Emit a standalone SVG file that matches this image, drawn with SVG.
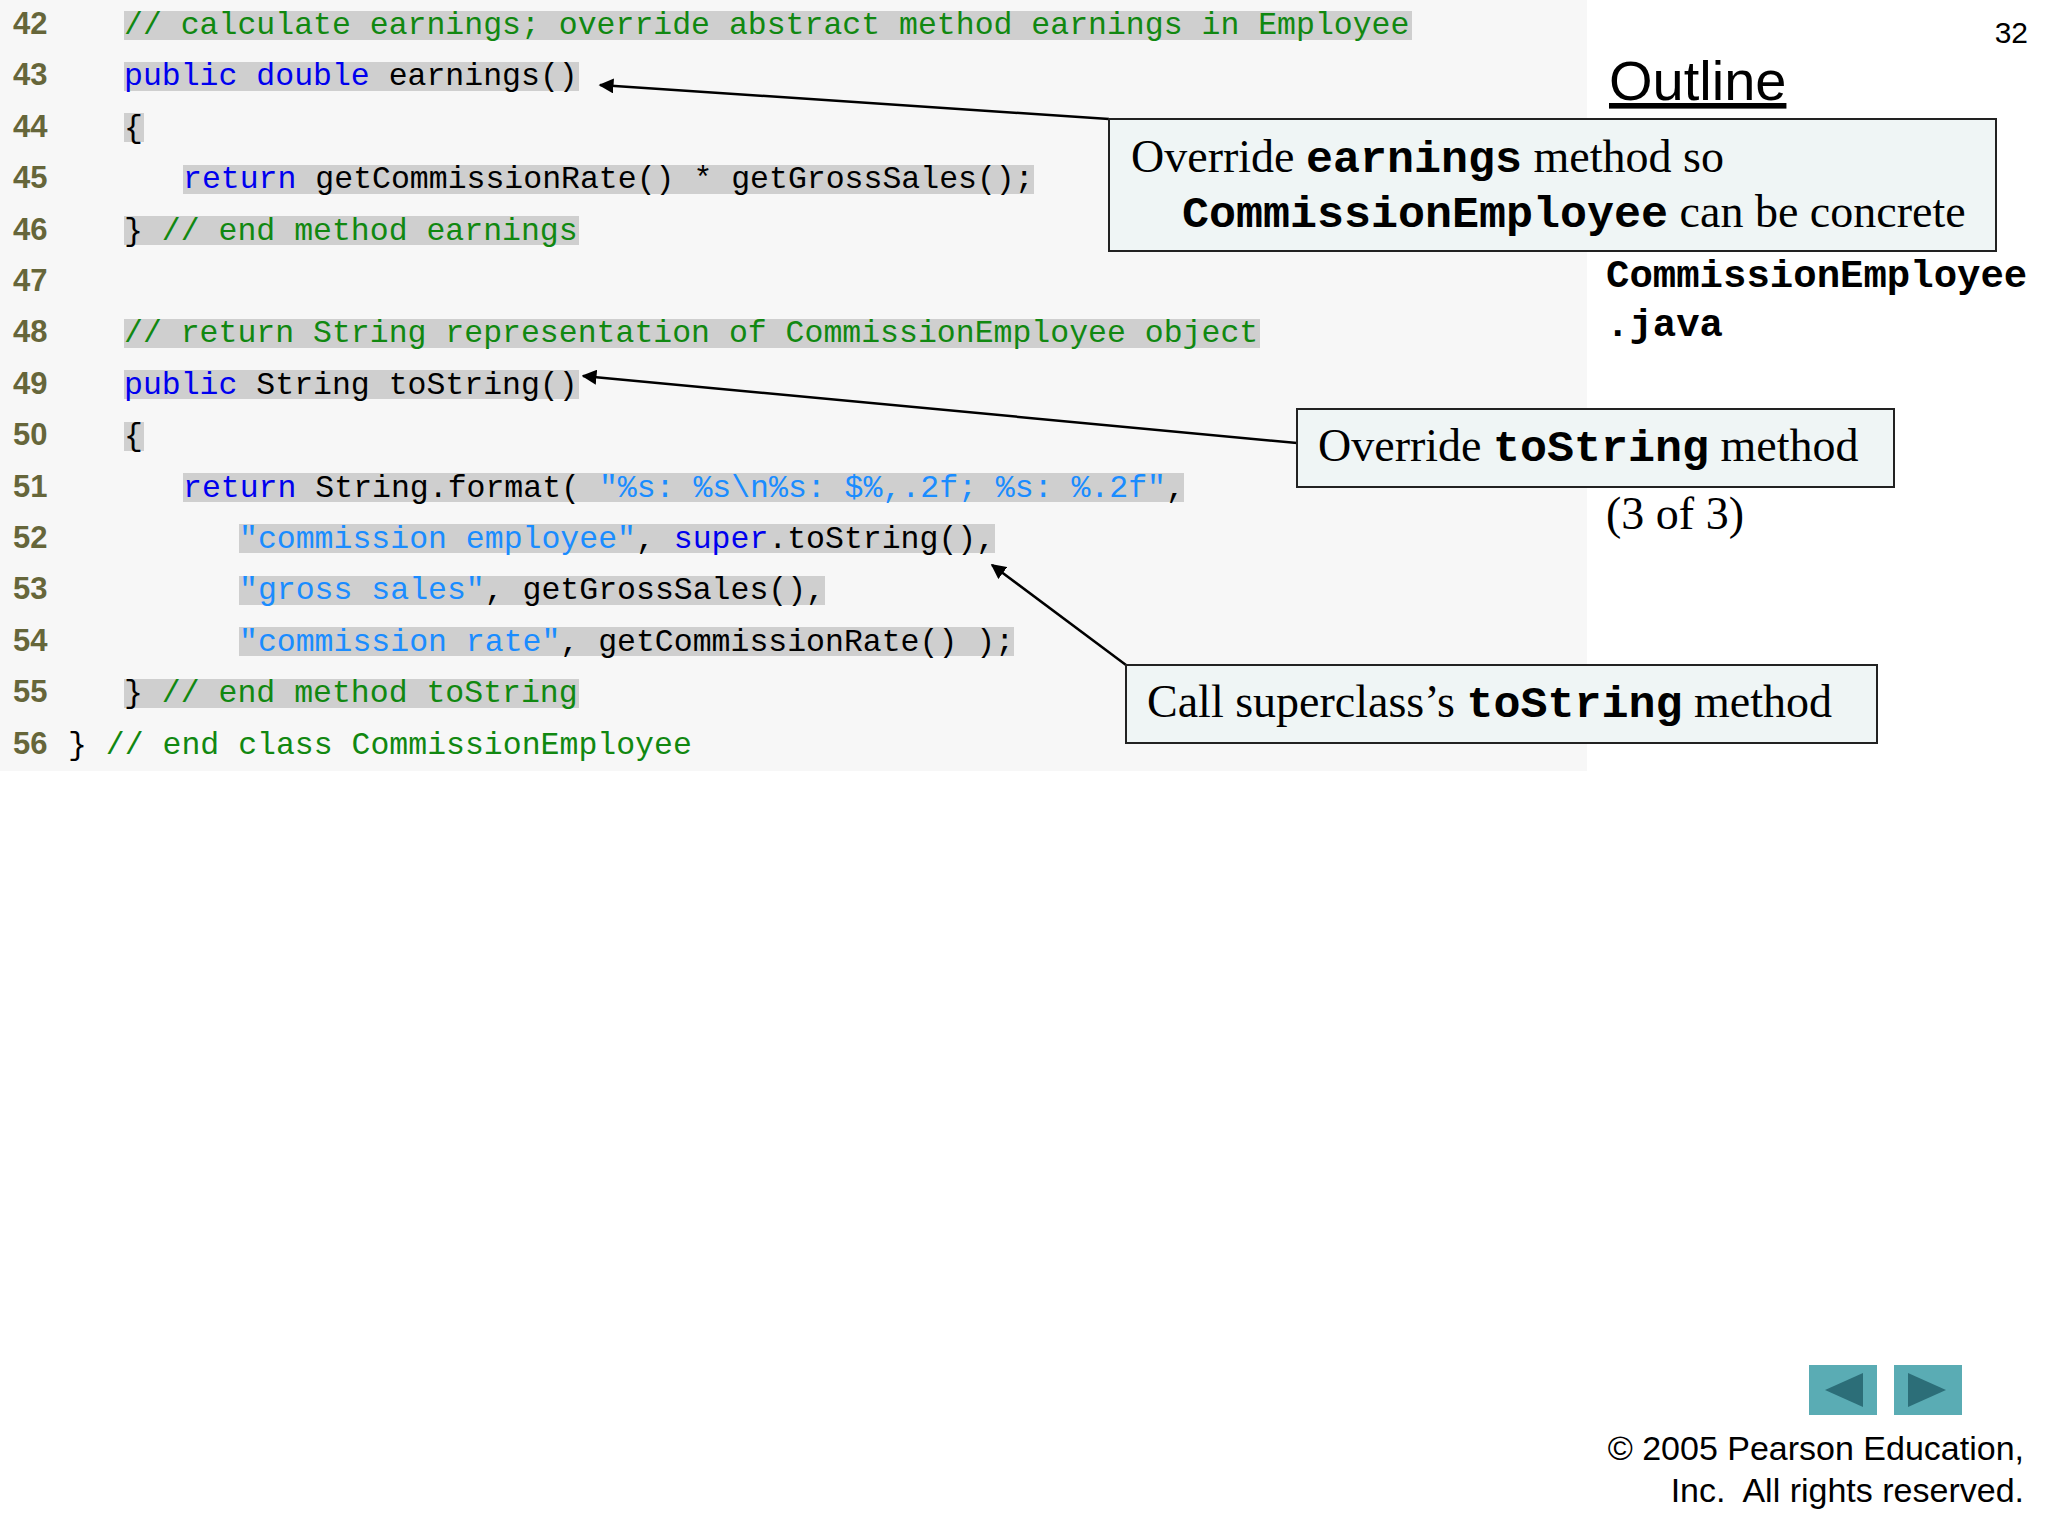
<svg xmlns="http://www.w3.org/2000/svg" width="2048" height="1536" viewBox="0 0 2048 1536">
<style>
.ln{font-family:"Liberation Sans Narrow","Liberation Sans",sans-serif;font-weight:bold;font-size:31px;fill:#66663a}
.c{font-family:"Liberation Mono",monospace;font-size:31.5px;fill:#000}
.g{fill:#118811}.k{fill:#0000ee}.s{fill:#1a8cff}
.band{fill:#cfcfcf}
.box{fill:#eff5f5;stroke:#222;stroke-width:2}
.t{font-family:"Liberation Serif",serif;font-size:46px;fill:#000}
.m{font-family:"Liberation Mono",monospace;font-weight:bold;font-size:45px}
.arr{stroke:#000;stroke-width:2.5;fill:none;marker-end:url(#ah)}
</style>
<defs><marker id="ah" viewBox="0 0 10 10" refX="9" refY="5" markerWidth="6" markerHeight="6" orient="auto" markerUnits="strokeWidth"><path d="M0,0 L10,5 L0,10 z" fill="#000"/></marker></defs>
<rect width="2048" height="1536" fill="#fff"/>
<rect x="0" y="0" width="1587" height="771" fill="#f7f7f7"/>
<g id="code">
<rect class="band" x="124" y="11" width="1288" height="29"/>
<rect class="band" x="124" y="62" width="455" height="29"/>
<rect class="band" x="124" y="113" width="20" height="29"/>
<rect class="band" x="183" y="165" width="851" height="29"/>
<rect class="band" x="124" y="216" width="455" height="29"/>
<rect class="band" x="124" y="319" width="1136" height="29"/>
<rect class="band" x="124" y="370" width="455" height="29"/>
<rect class="band" x="124" y="422" width="20" height="29"/>
<rect class="band" x="183" y="473" width="1001" height="29"/>
<rect class="band" x="239" y="524" width="756" height="29"/>
<rect class="band" x="239" y="576" width="586" height="29"/>
<rect class="band" x="239" y="627" width="775" height="29"/>
<rect class="band" x="124" y="679" width="455" height="29"/>
<text class="ln" x="13" y="34">42</text><text class="ln" x="13" y="85">43</text><text class="ln" x="13" y="137">44</text><text class="ln" x="13" y="188">45</text><text class="ln" x="13" y="240">46</text><text class="ln" x="13" y="291">47</text><text class="ln" x="13" y="342">48</text><text class="ln" x="13" y="394">49</text><text class="ln" x="13" y="445">50</text><text class="ln" x="13" y="497">51</text><text class="ln" x="13" y="548">52</text><text class="ln" x="13" y="599">53</text><text class="ln" x="13" y="651">54</text><text class="ln" x="13" y="702">55</text><text class="ln" x="13" y="754">56</text>
<text class="c g" x="124" y="34" xml:space="preserve">// calculate earnings; override abstract method earnings in Employee</text>
<text class="c" x="124" y="85" xml:space="preserve"><tspan class="k">public double</tspan> earnings()</text>
<text class="c" x="124" y="137">{</text>
<text class="c" x="183" y="188" xml:space="preserve"><tspan class="k">return</tspan> getCommissionRate() * getGrossSales();</text>
<text class="c" x="124" y="240" xml:space="preserve">} <tspan class="g">// end method earnings</tspan></text>
<text class="c g" x="124" y="342" xml:space="preserve">// return String representation of CommissionEmployee object</text>
<text class="c" x="124" y="394" xml:space="preserve"><tspan class="k">public</tspan> String toString()</text>
<text class="c" x="124" y="445">{</text>
<text class="c" x="183" y="497" xml:space="preserve"><tspan class="k">return</tspan> String.format( <tspan class="s">"%s: %s\n%s: $%,.2f; %s: %.2f"</tspan>,</text>
<text class="c" x="239" y="548" xml:space="preserve"><tspan class="s">"commission employee"</tspan>, <tspan class="k">super</tspan>.toString(),</text>
<text class="c" x="239" y="599" xml:space="preserve"><tspan class="s">"gross sales"</tspan>, getGrossSales(),</text>
<text class="c" x="239" y="651" xml:space="preserve"><tspan class="s">"commission rate"</tspan>, getCommissionRate() );</text>
<text class="c" x="124" y="702" xml:space="preserve">} <tspan class="g">// end method toString</tspan></text>
<text class="c" x="68" y="754" xml:space="preserve">} <tspan class="g">// end class CommissionEmployee</tspan></text>
</g>
<g id="connectors">
<line class="arr" x1="1109" y1="119" x2="600" y2="85"/>
<line class="arr" x1="1297" y1="443" x2="583" y2="376"/>
<line class="arr" x1="1126" y1="665" x2="992" y2="565"/>
</g>
<g id="box1"><rect class="box" x="1109" y="119" width="887" height="132"/>
<text class="t" x="1131" y="172">Override <tspan class="m">earnings</tspan> method so</text>
<text class="t" x="1182" y="227"><tspan class="m">CommissionEmployee</tspan> can be concrete</text></g>
<g id="box2"><rect class="box" x="1297" y="409" width="597" height="78"/>
<text class="t" x="1318" y="461">Override <tspan class="m">toString</tspan> method</text></g>
<g id="box3"><rect class="box" x="1126" y="665" width="751" height="78"/>
<text class="t" x="1147" y="717">Call superclass’s <tspan class="m">toString</tspan> method</text></g>
<g id="side">
<text x="2028" y="43" text-anchor="end" font-family="Liberation Sans,sans-serif" font-size="30">32</text>
<text x="1609" y="100" font-family="Liberation Sans,sans-serif" font-size="56" text-decoration="underline">Outline</text>
<text class="m" x="1606" y="287" style="font-size:39px">CommissionEmployee</text>
<text class="m" x="1606" y="336" style="font-size:39px">.java</text>
<text class="t" x="1606" y="529">(3 of 3)</text>
</g>
<g id="nav">
<rect x="1809" y="1365" width="68" height="50" fill="#5aacb4"/>
<path d="M1863,1373 L1863,1407 L1825,1390 z" fill="#2c6e78"/>
<rect x="1894" y="1365" width="68" height="50" fill="#5aacb4"/>
<path d="M1908,1373 L1908,1407 L1946,1390 z" fill="#2c6e78"/>
<text x="2024" y="1460" text-anchor="end" font-family="Liberation Sans Narrow,Liberation Sans,sans-serif" font-size="34">© 2005 Pearson Education,</text>
<text x="2024" y="1502" text-anchor="end" font-family="Liberation Sans Narrow,Liberation Sans,sans-serif" font-size="34" xml:space="preserve">Inc.  All rights reserved.</text>
</g>
</svg>
